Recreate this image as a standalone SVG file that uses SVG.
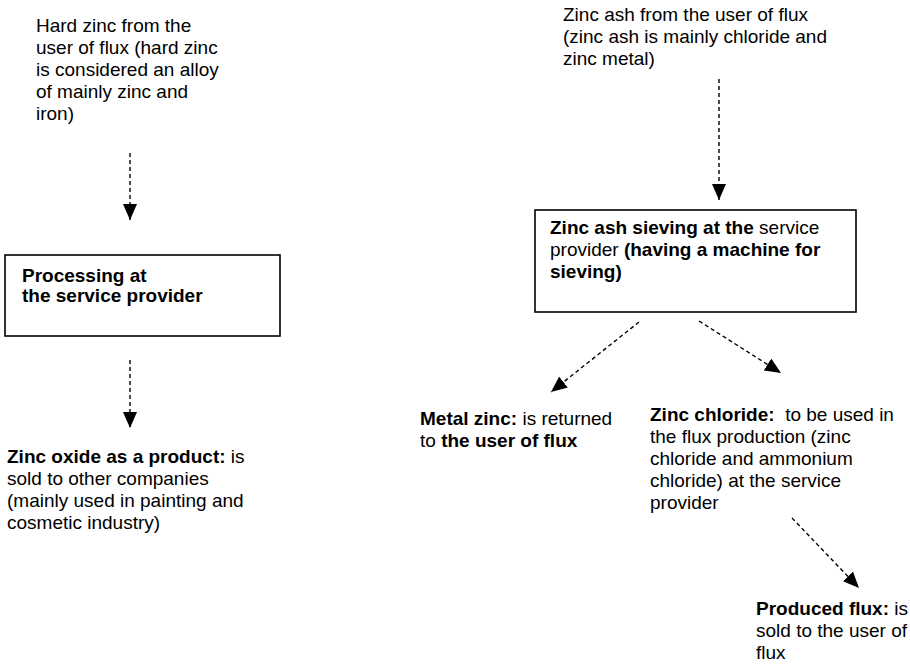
<svg xmlns="http://www.w3.org/2000/svg" width="910" height="664" viewBox="0 0 910 664">
<defs>
<marker id="ah" markerUnits="userSpaceOnUse" markerWidth="16" markerHeight="14" viewBox="0 0 16 14" refX="16" refY="7" orient="auto">
<path d="M0,0 L16,7 L0,14 Z" fill="#000"/>
</marker>
<style>
text{font-family:"Liberation Sans",Arial,sans-serif;font-size:19px;fill:#000}
.b{font-weight:bold}
.box{fill:#fff;stroke:#000;stroke-width:1.6}
.con{stroke:#000;stroke-width:1.4;stroke-dasharray:4 3;fill:none;marker-end:url(#ah)}
</style>
</defs>
<rect width="910" height="664" fill="#fff"/>
<g id="connectors">
<line class="con" x1="130" y1="153" x2="130" y2="220"/>
<line class="con" x1="130" y1="360" x2="130" y2="428"/>
<line class="con" x1="719" y1="79" x2="719" y2="200"/>
<line class="con" x1="639" y1="322" x2="551" y2="392"/>
<line class="con" x1="699" y1="321" x2="781" y2="373"/>
<line class="con" x1="792" y1="518" x2="859" y2="588"/>
</g>
<g id="hard-zinc">
<text x="36" y="32">Hard zinc from the</text>
<text x="36" y="54">user of flux (hard zinc</text>
<text x="36" y="76">is considered an alloy</text>
<text x="36" y="98">of mainly zinc and</text>
<text x="36" y="120">iron)</text>
</g>
<g id="processing">
<rect class="box" x="5" y="255" width="275" height="81"/>
<text class="b" x="22" y="282">Processing at</text>
<text class="b" x="22" y="302">the service provider</text>
</g>
<g id="zinc-oxide">
<text x="7" y="463"><tspan class="b">Zinc oxide as a product:</tspan> is</text>
<text x="7" y="485">sold to other companies</text>
<text x="7" y="507">(mainly used in painting and</text>
<text x="7" y="529">cosmetic industry)</text>
</g>
<g id="zinc-ash">
<text x="563" y="21">Zinc ash from the user of flux</text>
<text x="563" y="43">(zinc ash is mainly chloride and</text>
<text x="563" y="65">zinc metal)</text>
</g>
<g id="sieving">
<rect class="box" x="535" y="210" width="321" height="102"/>
<text x="550" y="234"><tspan class="b">Zinc ash sieving at the</tspan> service</text>
<text x="550" y="256">provider <tspan class="b">(having a machine for</tspan></text>
<text class="b" x="550" y="278">sieving)</text>
</g>
<g id="metal-zinc">
<text x="420" y="425"><tspan class="b">Metal zinc:</tspan> is returned</text>
<text x="420" y="447">to <tspan class="b">the user of flux</tspan></text>
</g>
<g id="zinc-chloride">
<text x="650" y="421" xml:space="preserve"><tspan class="b">Zinc chloride:</tspan>  to be used in</text>
<text x="650" y="443">the flux production (zinc</text>
<text x="650" y="465">chloride and ammonium</text>
<text x="650" y="487">chloride) at the service</text>
<text x="650" y="509">provider</text>
</g>
<g id="produced-flux">
<text x="756" y="615"><tspan class="b">Produced flux:</tspan> is</text>
<text x="756" y="637">sold to the user of</text>
<text x="756" y="659">flux</text>
</g>
</svg>
